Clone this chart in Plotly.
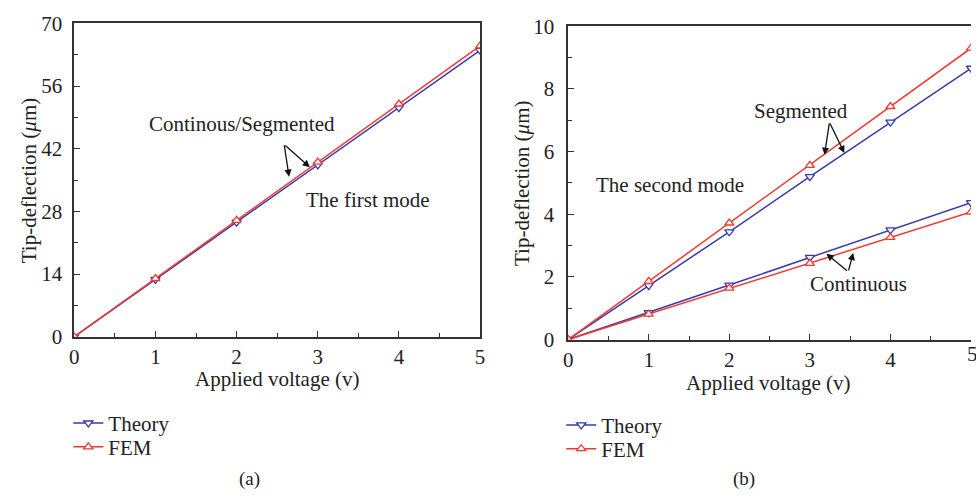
import plotly.graph_objects as go

# ---- data ----
volt = [0, 1, 2, 3, 4, 5]
first_theory = [0, 12.8, 25.6, 38.4, 51.2, 64.0]
first_fem = [0, 13.0, 26.0, 39.0, 52.0, 65.0]
seg_theory = [0, 1.72, 3.44, 5.20, 6.94, 8.66]
seg_fem = [0, 1.86, 3.72, 5.56, 7.44, 9.30]
cont_theory = [0, 0.86, 1.74, 2.62, 3.50, 4.37]
cont_fem = [0, 0.81, 1.64, 2.43, 3.26, 4.07]

BLUE = "#3a3aa8"
RED = "#ee3a30"
FONT = "Liberation Serif"
TXT = "#222222"
W, H = 976, 502
FS = 21

def px(x):
    return x / W

def py(y):
    return 1 - y / H

fig = go.Figure()

def add(x, y, color, sym, name, xa, ya, show, legend):
    fig.add_trace(go.Scatter(
        x=x, y=y, mode="lines+markers", name=name,
        line=dict(color=color, width=1.5),
        marker=dict(symbol=sym, size=8, color="white",
                    line=dict(color=color, width=1.3)),
        xaxis=xa, yaxis=ya, showlegend=show, legend=legend))

add(volt, first_theory, BLUE, "triangle-down", "Theory", "x", "y", True, "legend")
add(volt, first_fem, RED, "triangle-up", "FEM", "x", "y", True, "legend2")
add(volt, seg_theory, BLUE, "triangle-down", "Theory", "x2", "y2", True, "legend3")
add(volt, seg_fem, RED, "triangle-up", "FEM", "x2", "y2", True, "legend4")
add(volt, cont_theory, BLUE, "triangle-down", "Theory", "x2", "y2", False, "legend3")
add(volt, cont_fem, RED, "triangle-up", "FEM", "x2", "y2", False, "legend4")

axis_common = dict(
    showline=True, linecolor="#333333", linewidth=1.5,
    ticks="inside", ticklen=6, tickcolor="#333333", tickwidth=1.2,
    showgrid=False, zeroline=False,
    tickfont=dict(family=FONT, size=FS, color=TXT),
)
minor = dict(ticks="inside", ticklen=4, tickcolor="#333333", tickwidth=1.2, showgrid=False)

def leg(x, y):
    return dict(x=px(x), y=py(y), xanchor="left", yanchor="middle",
                bgcolor="rgba(0,0,0,0)", font=dict(family=FONT, size=FS, color=TXT),
                itemwidth=30, tracegroupgap=0)

fig.update_layout(
    width=W, height=H,
    margin=dict(l=0, r=0, t=0, b=0),
    paper_bgcolor="white", plot_bgcolor="white",
    font=dict(family=FONT, color=TXT),
    xaxis=dict(domain=[px(70), px(480)], range=[0, 5], dtick=1, tick0=0,
               mirror=True, anchor="y", minor=dict(dtick=0.5, **minor), **axis_common),
    yaxis=dict(domain=[py(341), py(12)], range=[0, 70], dtick=14, tick0=0,
               mirror=True, anchor="x", ticklabelstandoff=6,
               minor=dict(dtick=7, **minor), **axis_common),
    xaxis2=dict(domain=[px(569), 1.0], range=[0, 5], dtick=1, tick0=0,
                mirror=True, anchor="y2", minor=dict(dtick=0.5, **minor), **axis_common),
    yaxis2=dict(domain=[py(344), py(15)], range=[0, 10], dtick=2, tick0=0,
                mirror=False, anchor="x2", ticklabelstandoff=8,
                minor=dict(dtick=1, **minor), **axis_common),
    legend=leg(64, 432),
    legend2=leg(64, 457),
    legend3=leg(562, 434),
    legend4=leg(562, 459),
)

ann = []
def text(x, y, s, size=FS, angle=0, xanchor="center"):
    ann.append(dict(x=px(x), y=py(y), xref="paper", yref="paper", text=s,
                    showarrow=False, textangle=angle,
                    font=dict(family=FONT, size=size, color=TXT),
                    xanchor=xanchor, yanchor="middle"))

def arrow(hx, hy, tx, ty):
    ann.append(dict(x=px(hx), y=py(hy), xref="paper", yref="paper", text="",
                    showarrow=True, ax=tx - hx, ay=ty - hy,
                    arrowhead=2, arrowsize=1.1, arrowwidth=1.3, arrowcolor="#111111"))

# axis titles
text(275, 385, "Applied voltage (v)")
text(771, 390, "Applied voltage (v)")
text(24, 177, "Tip-deflection (<i>μ</i>m)", angle=-90)
text(523, 180, "Tip-deflection (<i>μ</i>m)", angle=-90)
# clipped last tick label of panel (b)
text(970, 359, "5", xanchor="left")
# captions
text(247, 490, "(a)", size=19)
text(747, 490, "(b)", size=19)
# in-plot labels
text(239, 118, "Continous/Segmented")
text(367, 197, "The first mode")
text(804, 104, "Segmented")
text(672, 182, "The second mode")
text(862, 286, "Continuous")
# arrows
arrow(287, 173, 282, 140)
arrow(308, 163, 282, 140)
arrow(828, 150, 833, 117)
arrow(848, 148, 833, 117)
arrow(830, 254, 852, 272)
arrow(857, 253, 852, 272)

fig.update_layout(annotations=ann)
fig.write_html("out.html")
